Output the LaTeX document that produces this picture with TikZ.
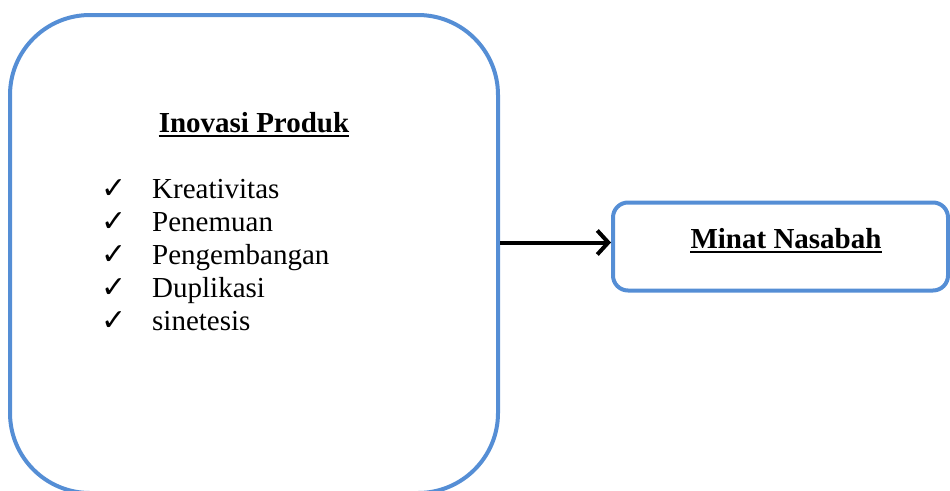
\documentclass[tikz,border=0pt]{standalone}
\usepackage{fontspec}
\setmainfont{Liberation Serif}
\newfontfamily\symfont{DejaVu Sans}
\usetikzlibrary{arrows.meta}
\definecolor{boxblue}{RGB}{85,142,213}
\tikzset{
  bluebox/.style={draw=boxblue, line width=4pt, inner sep=0pt},
  titletext/.style={font=\fontsize{29}{34}\selectfont\bfseries, anchor=base, inner sep=0pt},
  itemtext/.style={font=\fontsize{29}{33}\selectfont, anchor=base west, inner sep=0pt},
  checktext/.style={font=\fontsize{30}{34}\symfont, anchor=base west, inner sep=0pt},
  uline/.style={line width=2.6pt},
  connector/.style={line width=4pt, -{Straight Barb[length=11pt,width=24pt]}}
}
\begin{document}
\begin{tikzpicture}[x=1pt,y=-1pt]
\useasboundingbox (0,0) rectangle (950,490);
\node[bluebox, rounded corners=80pt, minimum width=488pt, minimum height=478pt] (box1) at (254,254) {};
\node[bluebox, rounded corners=15pt, minimum width=335pt, minimum height=88pt] (box2) at (780.5,246.5) {};
\node[titletext] (t1) at (254,132) {Inovasi Produk};
\draw[uline] ([yshift=-4pt]t1.base west) -- ([yshift=-4pt]t1.base east);
\node[titletext] (t2) at (786,248) {Minat Nasabah};
\draw[uline] ([yshift=-4pt]t2.base west) -- ([yshift=-4pt]t2.base east);
\foreach \txt [count=\i] in {Kreativitas,Penemuan,Pengembangan,Duplikasi,sinetesis}{
  \node[checktext] (c\i) at (101,{165+33*\i}) {✓};
  \node[itemtext] (i\i) at (152,{165+33*\i}) {\txt};
}
\draw[connector] ([yshift=4pt]box1.east |- box2.west) -- ([yshift=4pt]box2.west);
\end{tikzpicture}
\end{document}
